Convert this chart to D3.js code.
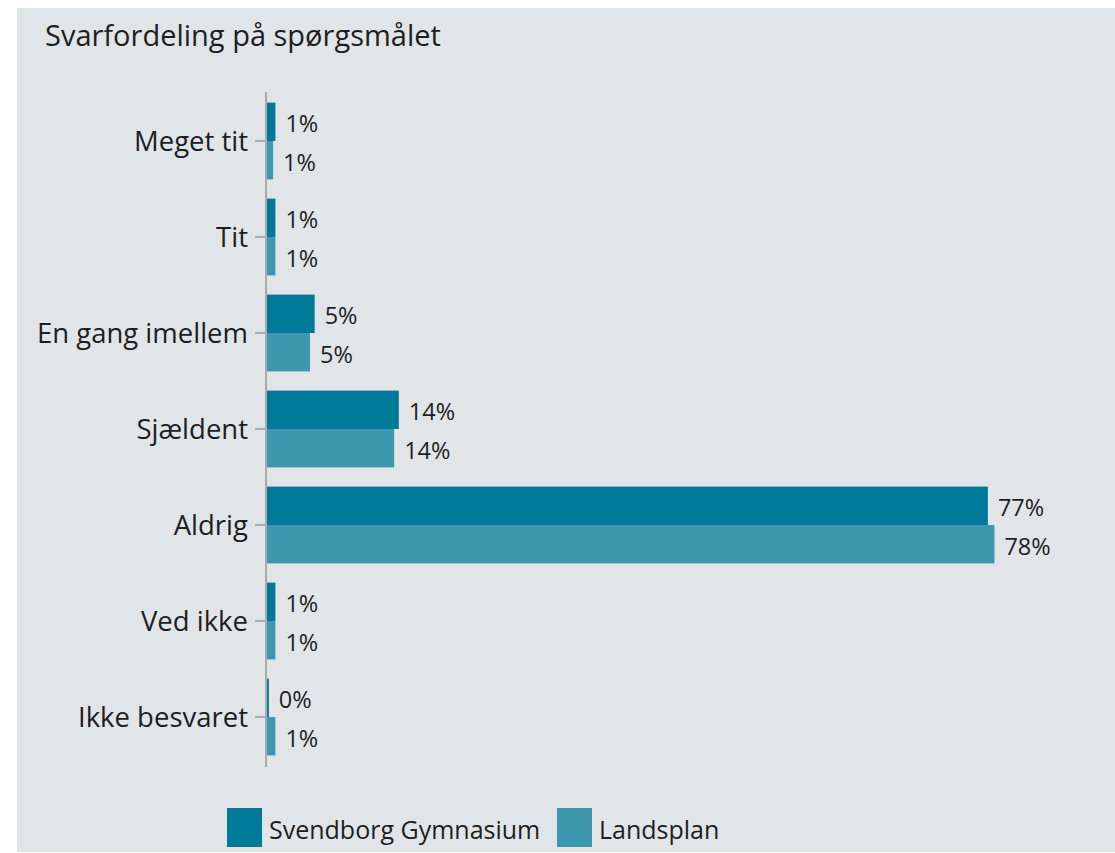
<!DOCTYPE html>
<html>
<head>
<meta charset="utf-8">
<script src="https://cdn.jsdelivr.net/npm/d3@7"></script>
<style>
  body { margin: 0; background: #fff; }
  text { font-family: "Open Sans", Lato, sans-serif; fill: #1e1e1e; }
</style>
</head>
<body>
<div id="chart"></div>
<script>
// data
var categories = ["Meget tit", "Tit", "En gang imellem", "Sjældent", "Aldrig", "Ved ikke", "Ikke besvaret"];
var seriesNames = ["Svendborg Gymnasium", "Landsplan"];
var svendborg = [0.9, 0.9, 5.1, 14.1, 77.1, 0.9, 0.2];
var landsplan = [0.65, 0.9, 4.6, 13.6, 77.8, 0.9, 0.9];
var colors = ["#007a99", "#3c97af"];

var W = 1115, H = 853;

var svg = d3.select("#chart")
    .append("svg")
    .attr("width", W)
    .attr("height", H);

// grey panel
svg.append("rect")
    .attr("x", 17).attr("y", 8)
    .attr("width", W - 17).attr("height", H - 9)
    .attr("fill", "#e2e5e8");

svg.append("text")
    .attr("x", 45).attr("y", 46)
    .style("font-size", "29px")
    .text("Svarfordeling på spørgsmålet");

var y = d3.scaleBand()
    .domain(categories)
    .range([93, 765])
    .paddingInner(0.2)
    .paddingOuter(0.1);

var ySub = d3.scaleBand()
    .domain(seriesNames)
    .range([0, y.bandwidth()]);

var x = d3.scaleLinear()
    .domain([0, 100])
    .range([267, 1202]);

var rows = categories.map(function (c, i) {
    return { cat: c, vals: [svendborg[i], landsplan[i]] };
});

var groups = svg.append("g")
    .selectAll("g.row")
    .data(rows)
    .enter()
    .append("g")
    .attr("class", "row")
    .attr("transform", function (d) { return "translate(0," + y(d.cat) + ")"; });

groups.selectAll("rect")
    .data(function (d) { return d.vals.map(function (v, j) { return { s: seriesNames[j], v: v, j: j }; }); })
    .enter()
    .append("rect")
    .attr("x", x(0))
    .attr("y", function (d) { return ySub(d.s); })
    .attr("width", function (d) { return x(d.v) - x(0); })
    .attr("height", ySub.bandwidth())
    .attr("fill", function (d) { return colors[d.j]; });

groups.selectAll("text.val")
    .data(function (d) { return d.vals.map(function (v, j) { return { s: seriesNames[j], v: v }; }); })
    .enter()
    .append("text")
    .attr("class", "val")
    .attr("x", function (d) { return x(d.v) + 10; })
    .attr("y", function (d) { return ySub(d.s) + ySub.bandwidth() / 2; })
    .attr("dy", "0.45em")
    .style("font-size", "23.5px")
    .text(function (d) { return Math.round(d.v) + "%"; });

// y axis
var axis = svg.append("g")
    .attr("transform", "translate(266,0)")
    .call(d3.axisLeft(y).tickSize(11).tickPadding(7));
axis.select(".domain")
    .attr("d", "M0,92V767")
    .attr("stroke", "#a9abae")
    .attr("stroke-width", 2);
axis.selectAll(".tick line")
    .attr("stroke", "#a9abae")
    .attr("stroke-width", 2);
axis.selectAll(".tick text")
    .style("font-size", "27.5px")
    .style("font-family", "'Open Sans', Lato, sans-serif")
    .attr("fill", "#1e1e1e")
    .attr("dy", "0.35em");

// legend
var legendX = [227, 557];
var legend = svg.append("g")
    .selectAll("g.leg")
    .data(seriesNames)
    .enter()
    .append("g")
    .attr("transform", function (d, i) { return "translate(" + legendX[i] + ",808)"; });
legend.append("rect")
    .attr("width", 35).attr("height", 39)
    .attr("fill", function (d, i) { return colors[i]; });
legend.append("text")
    .attr("x", 42).attr("y", 31)
    .style("font-size", "25px")
    .text(function (d) { return d; });
</script>
</body>
</html>
